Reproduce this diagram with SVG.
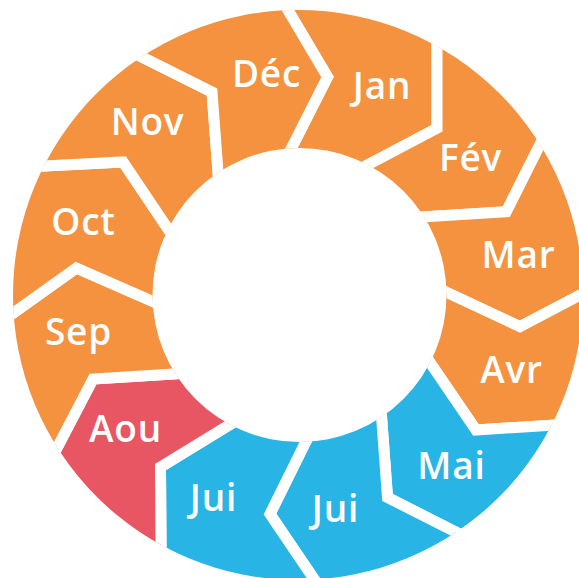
<svg xmlns="http://www.w3.org/2000/svg" width="579" height="578" viewBox="0 0 579 578">
<style>
.seg{stroke:#fff;stroke-width:11;stroke-linejoin:miter;clip-path:url(#ring)}
.o{fill:#F5923F}.b{fill:#28B4E5}.r{fill:#E75662}
text{font-family:"Open Sans","Liberation Sans",sans-serif;font-weight:600;font-size:37px;letter-spacing:0.8px;fill:#fff;text-anchor:middle}
</style>
<defs>
<clipPath id="ring"><path clip-rule="evenodd" d="M13,295 A285,285 0 1 0 583,295 A285,285 0 1 0 13,295 Z M152.5,295 A147,147 0 1 0 446.5,295 A147,147 0 1 0 152.5,295 Z"/></clipPath>
</defs>
<rect width="579" height="578" fill="#fff"/>
<g id="jan"><path class="seg o" d="M262.1,-33.5 L437,-9.1 L437,128.3 L325.8,187 L270.7,189 L327.5,77 Z"/><text x="382" y="99">Jan</text></g>
<g id="fev"><path class="seg o" d="M437,-9.1 L565.3,94.1 L506.3,211.7 L377.5,219.7 L325.8,187 L437,128.3 Z"/><text x="470.5" y="171">Fév</text></g>
<g id="mar"><path class="seg o" d="M565.3,94.1 L627.1,270.3 L520,326.7 L404.8,272.8 L377.5,219.7 L506.3,211.7 Z"/><text x="518.5" y="268">Mar</text></g>
<g id="avr"><path class="seg o" d="M627.1,270.3 L610.3,421.5 L476,430 L404,324.4 L404.8,272.8 L520,326.7 Z"/><text x="511.5" y="383">Avr</text></g>
<g id="mai"><path class="seg b" d="M610.3,421.5 L499.4,554.1 L387.5,497.5 L378.2,370.8 L404,324.4 L476,430 Z"/><text x="451.5" y="479">Mai</text></g>
<g id="juin"><path class="seg b" d="M499.4,554.1 L343.6,622.8 L270,514 L327.3,398.3 L378.2,370.8 L387.5,497.5 Z"/><text x="335.5" y="522">Jui</text></g>
<g id="juil"><path class="seg b" d="M343.6,622.8 L161.4,596.2 L160.5,467 L270.1,399.8 L327.3,398.3 L270,514 Z"/><text x="213.5" y="511">Jui</text></g>
<g id="aou"><path class="seg r" d="M161.4,596.2 L31.8,496.3 L93,379 L221,371 L270.1,399.8 L160.5,467 Z"/><text x="125.5" y="442">Aou</text></g>
<g id="sep"><path class="seg o" d="M31.8,496.3 L-29.6,343.7 L76.3,268 L199.5,321.9 L221,371 L93,379 Z"/><text x="78.5" y="345">Sep</text></g>
<g id="oct"><path class="seg o" d="M-29.6,343.7 L-13,168.8 L123,162 L191.8,264.4 L199.5,321.9 L76.3,268 Z"/><text x="83.5" y="235">Oct</text></g>
<g id="nov"><path class="seg o" d="M-13,168.8 L93,32.5 L212,92 L221.6,220 L191.8,264.4 L123,162 Z"/><text x="147.5" y="135">Nov</text></g>
<g id="dec"><path class="seg o" d="M93,32.5 L262.1,-33.5 L327.5,77 L270.7,189 L221.6,220 L212,92 Z"/><text x="266.5" y="87">Déc</text></g>
</svg>
